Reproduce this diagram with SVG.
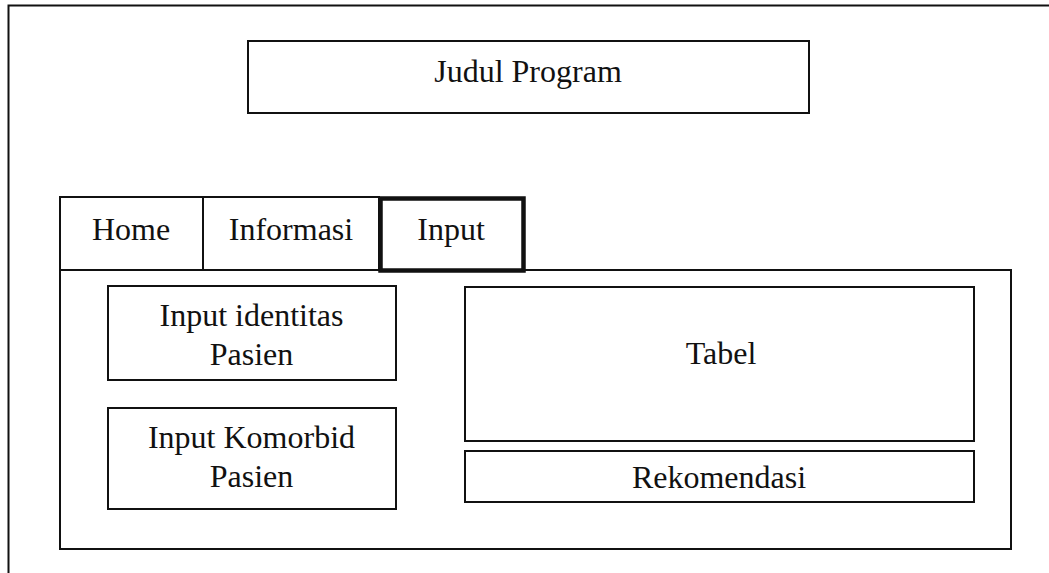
<svg xmlns="http://www.w3.org/2000/svg" width="1049" height="573" viewBox="0 0 1049 573">
  <style>
    .box { fill: #ffffff; stroke: #111111; stroke-width: 2; }
    .thin { fill: none; stroke: #111111; stroke-width: 2; }
    .thick { fill: #ffffff; stroke: #111111; stroke-width: 4.5; }
    .lbl { font-size: 32px; fill: #111111; text-anchor: middle; }
  </style>
  <rect width="1049" height="573" fill="#ffffff"/>

  <!-- page frame -->
  <g id="frame">
    <path class="thin" d="M8.5,580 V5.5 H1060" stroke-width="3"/>
  </g>

  <g font-family="Liberation Serif, Times New Roman, DejaVu Serif, serif">
    <g id="title">
      <rect class="box" x="248" y="41" width="561" height="72"/>
      <text class="lbl" x="528" y="82">Judul Program</text>
    </g>

    <!-- content panel under the tabs -->
    <g id="panel">
      <rect class="box" x="60" y="270" width="951" height="279"/>
    </g>

    <g id="tab-home">
      <rect class="box" x="60" y="197" width="143" height="73"/>
      <text class="lbl" x="131" y="240">Home</text>
    </g>
    <g id="tab-informasi">
      <rect class="box" x="203" y="197" width="176" height="73"/>
      <text class="lbl" x="291" y="240">Informasi</text>
    </g>
    <g id="tab-input">
      <rect class="thick" x="380.5" y="198.5" width="143" height="72"/>
      <text class="lbl" x="451" y="240">Input</text>
    </g>

    <g id="input-identitas">
      <rect class="box" x="108" y="286" width="288" height="94"/>
      <text class="lbl" x="251.5" y="325.5">Input identitas</text>
      <text class="lbl" x="251.5" y="365">Pasien</text>
    </g>
    <g id="input-komorbid">
      <rect class="box" x="108" y="408" width="288" height="101"/>
      <text class="lbl" x="251.5" y="448">Input Komorbid</text>
      <text class="lbl" x="251.5" y="487">Pasien</text>
    </g>

    <g id="tabel">
      <rect class="box" x="465" y="287" width="509" height="154"/>
      <text class="lbl" x="721" y="364">Tabel</text>
    </g>
    <g id="rekomendasi">
      <rect class="box" x="465" y="451" width="509" height="51"/>
      <text class="lbl" x="719" y="488">Rekomendasi</text>
    </g>
  </g>

  <g id="connectors"></g>
</svg>
